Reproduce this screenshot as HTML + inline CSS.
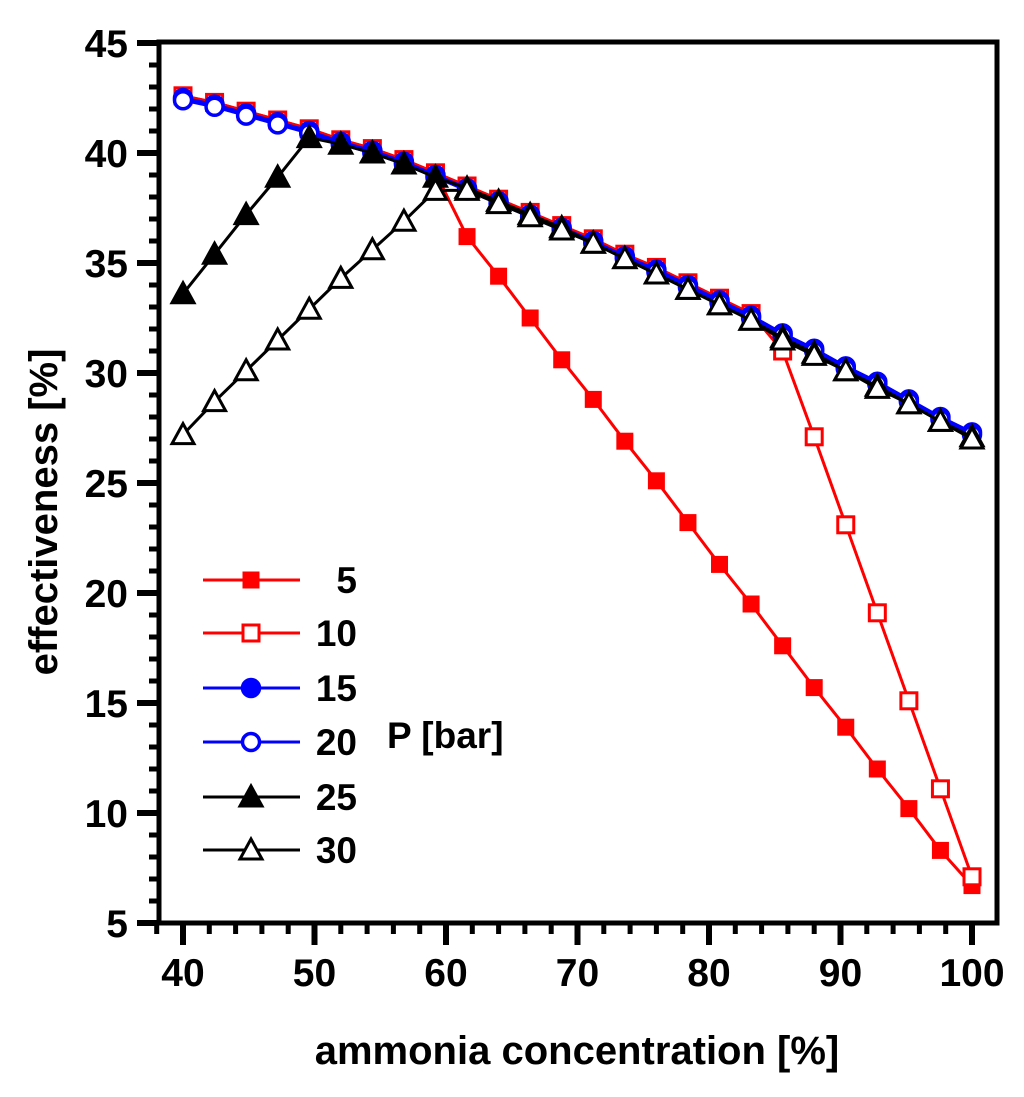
<!DOCTYPE html>
<html><head><meta charset="utf-8"><style>
body{margin:0;background:#fff}
text{font-family:"Liberation Sans",Arial,sans-serif;font-weight:bold}
</style></head><body>
<svg id="chart" width="1024" height="1092" xmlns="http://www.w3.org/2000/svg"></svg>
<script>
const xValues=[40,42.4,44.8,47.2,49.6,52,54.4,56.8,59.2,61.6,64,66.4,68.8,71.2,73.6,76,78.4,80.8,83.2,85.6,88,90.4,92.8,95.2,97.6,100];
const s5=[42.6,42.3,41.9,41.5,41.1,40.6,40.2,39.7,39.1,36.2,34.4,32.5,30.6,28.8,26.9,25.1,23.2,21.3,19.5,17.6,15.7,13.9,12.0,10.2,8.3,6.7];
const s10=[42.6,42.3,41.9,41.5,41.1,40.6,40.2,39.7,39.1,38.5,37.9,37.3,36.7,36.1,35.4,34.8,34.1,33.4,32.7,31.0,27.1,23.1,19.1,15.1,11.1,7.1];
const s15=[42.5,42.2,41.8,41.4,41.0,40.5,40.1,39.6,39.0,38.4,37.8,37.2,36.6,36.0,35.3,34.7,34.0,33.3,32.6,31.8,31.1,30.3,29.6,28.8,28.0,27.3];
const s20=[42.4,42.1,41.7,41.3,40.9,40.4,40.0,39.5,38.9,38.3,37.7,37.1,36.5,35.9,35.2,34.6,33.9,33.2,32.5,31.7,31.0,30.2,29.5,28.7,27.9,27.2];
const s25=[33.6,35.4,37.2,38.9,40.7,40.4,40.0,39.5,38.9,38.4,37.8,37.2,36.6,35.9,35.2,34.5,33.8,33.1,32.4,31.6,30.9,30.1,29.4,28.6,27.8,27.1];
const s30=[27.2,28.7,30.1,31.5,32.9,34.3,35.6,36.9,38.3,38.3,37.7,37.1,36.5,35.9,35.2,34.5,33.8,33.1,32.4,31.5,30.8,30.1,29.3,28.6,27.8,27.0];
const xTicks=[40,50,60,70,80,90,100];
const yTicks=[5,10,15,20,25,30,35,40,45];
const legendLabels=["5","10","15","20","25","30"];

const svg=document.getElementById('chart');
const NS='http://www.w3.org/2000/svg';
const X=v=>183+(v-40)*13.15;
const Y=v=>923-(v-5)*22;
function mk(tag,attrs,parent){const e=document.createElementNS(NS,tag);for(const k in attrs)e.setAttribute(k,attrs[k]);(parent||svg).appendChild(e);return e;}
const L=159,R=997,T=42,B=923;
const frame=mk('rect',{x:L,y:T,width:R-L,height:B-T,fill:'none',stroke:'#000','stroke-width':5});


for(let v=5;v<=45;v++){const maj=v%5===0;const t=mk('line',{x1:L,x2:L-(maj?22:10),y1:Y(v),y2:Y(v),stroke:'#000','stroke-width':maj?6:5});

}
yTicks.forEach(v=>{const t=mk('text',{x:128,y:Y(v)+14,'text-anchor':'end','font-size':39});t.textContent=v;

});
for(let v=38;v<=100;v+=2){const maj=v%10===0;const t=mk('line',{x1:X(v),x2:X(v),y1:B,y2:B+(maj?22:11),stroke:'#000','stroke-width':maj?6:5});

}
xTicks.forEach(v=>{const t=mk('text',{x:X(v),y:986,'text-anchor':'middle','font-size':39});t.textContent=v;

});
const xt=mk('text',{x:577,y:1064,'text-anchor':'middle','font-size':40});xt.textContent='ammonia concentration [%]';


const yt=mk('text',{x:0,y:0,'text-anchor':'middle','font-size':40,transform:'translate(57,512) rotate(-90)'});yt.textContent='effectiveness [%]';



function marker(g,type,color,x,y){
 if(type==='sq'||type==='osq') mk('rect',{x:x-8,y:y-8,width:16,height:16,fill:type==='sq'?color:'#fff',stroke:color,'stroke-width':type==='sq'?1:3},g);
 else if(type==='ci'||type==='oci') mk('circle',{cx:x,cy:y,r:8.5,fill:type==='ci'?color:'#fff',stroke:color,'stroke-width':3.5},g);
 else mk('polygon',{points:`${x},${y-11} ${x-11},${y+9} ${x+11},${y+9}`,fill:type==='tr'?color:'#fff',stroke:color,'stroke-width':3},g);
}
const series=[[s5,'#f00','sq','series-5bar'],[s10,'#f00','osq','series-10bar'],[s15,'#00f','ci','series-15bar'],[s20,'#00f','oci','series-20bar'],[s25,'#000','tr','series-25bar'],[s30,'#000','otr','series-30bar']];
series.forEach(([d,c,m,n])=>{
 const g=mk('g',{});
 
 
 mk('polyline',{points:d.map((v,i)=>X(xValues[i])+','+Y(v)).join(' '),fill:'none',stroke:c,'stroke-width':3},g);
 d.forEach((v,i)=>marker(g,m,c,X(xValues[i]),Y(v)));
});
const lg=mk('g',{});


const ly=[580,633,688,742,797,850];
series.forEach(([d,c,m],i)=>{
 const e=mk('g',{},lg);
 
 
 mk('line',{x1:203,x2:300,y1:ly[i],y2:ly[i],stroke:c,'stroke-width':3},e);
 marker(e,m,c,251,ly[i]);
 const t=mk('text',{x:357,y:ly[i]+13,'text-anchor':'end','font-size':37},e);t.textContent=legendLabels[i];
});
const pt=mk('text',{x:387,y:748,'font-size':37},lg);pt.textContent='P [bar]';


</script>
</body></html>
